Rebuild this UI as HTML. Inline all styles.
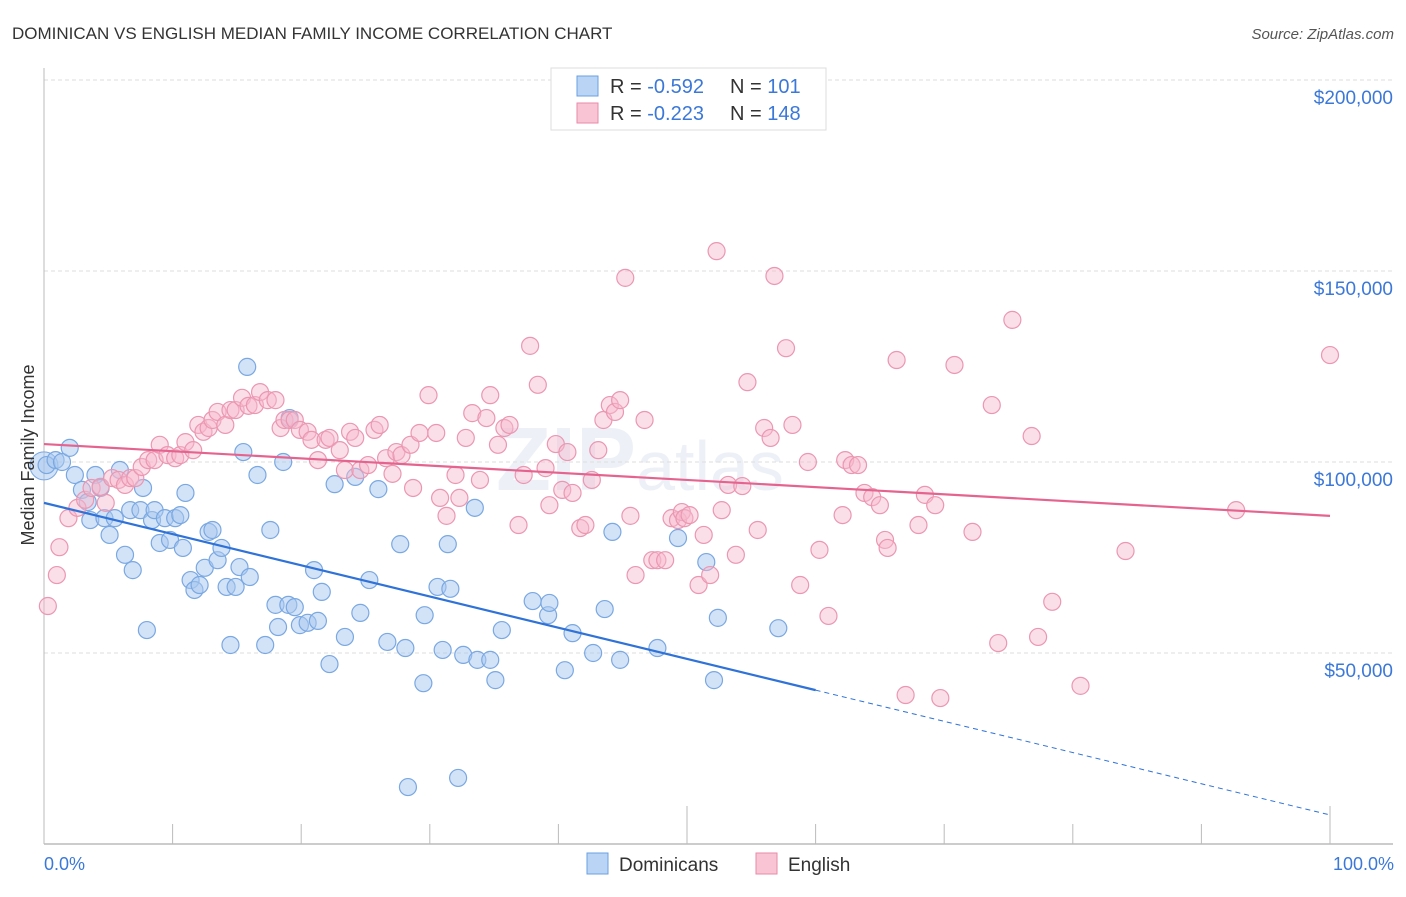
<!DOCTYPE html>
<html><head><meta charset="utf-8"><style>
body{margin:0;background:#fff;font-family:"Liberation Sans",sans-serif;}
svg text{font-family:"Liberation Sans",sans-serif;}
</style></head><body>
<svg id="chart" width="1406" height="892" xmlns="http://www.w3.org/2000/svg">
<text x="12" y="39" font-size="17" fill="#333">DOMINICAN VS ENGLISH MEDIAN FAMILY INCOME CORRELATION CHART</text>
<text x="1394" y="39" font-size="15" fill="#555" font-style="italic" text-anchor="end">Source: ZipAtlas.com</text>
<text x="640" y="490" font-size="90" fill="#edf1f7" text-anchor="middle" font-weight="bold">ZIP<tspan font-weight="normal" font-size="70">atlas</tspan></text>
<g id="grid"></g>
<g id="axes"></g>
<g id="pts"></g>
<g id="trend"></g>
<text transform="translate(34,455) rotate(-90)" font-size="18" fill="#333" text-anchor="middle">Median Family Income</text>
<text x="44" y="870" font-size="18" fill="#3b78d8">0.0%</text>
<text x="1394" y="870" font-size="18" fill="#3b78d8" text-anchor="end">100.0%</text>
<g>
<rect x="551" y="68" width="275" height="62" fill="#fff" stroke="#ddd"/>
<rect x="577" y="76" width="21" height="20" fill="#b9d4f5" stroke="#6b9fe0"/>
<rect x="577" y="103" width="21" height="20" fill="#f9c5d5" stroke="#e88aa8"/>
<text x="610" y="93" font-size="20" fill="#333">R = <tspan fill="#3b78d8">-0.592</tspan><tspan x="730">N = </tspan><tspan fill="#3b78d8">101</tspan></text>
<text x="610" y="120" font-size="20" fill="#333">R = <tspan fill="#3b78d8">-0.223</tspan><tspan x="730">N = </tspan><tspan fill="#3b78d8">148</tspan></text>
</g>
<g>
<rect x="587" y="853" width="21" height="21" fill="#b9d4f5" stroke="#6b9fe0"/>
<text x="619" y="871" font-size="19" fill="#333">Dominicans</text>
<rect x="756" y="853" width="21" height="21" fill="#f9c5d5" stroke="#e88aa8"/>
<text x="788" y="871" font-size="19" fill="#333">English</text>
</g>
</svg>
<script>
const yTicks=[50000,100000,150000,200000];
const yTickLabels=["$50,000","$100,000","$150,000","$200,000"];
const blueX=[0.2,0.9,1.4,2.0,2.4,2.95,3.4,3.6,4.0,4.4,4.7,5.1,5.5,5.9,6.3,6.7,6.9,7.5,7.7,8.0,8.4,8.6,9.0,9.4,9.8,10.2,10.6,10.8,11.0,11.4,11.7,12.1,12.5,12.8,13.1,13.5,13.8,14.2,14.5,14.9,15.2,15.5,15.8,16.0,16.6,17.2,17.6,18.0,18.2,18.6,19.0,19.1,19.5,19.9,20.5,21.0,21.3,21.6,22.2,22.6,23.4,24.2,24.6,25.3,26.0,26.7,27.7,28.1,28.3,29.5,29.6,30.6,31.0,31.4,31.6,32.2,32.6,33.5,33.7,34.7,35.1,35.6,38.0,39.2,39.3,40.5,41.1,42.7,43.6,44.2,44.8,47.7,49.3,51.5,52.1,52.4,57.1];
const blueY=[99.2,100.5,100,103.7,96.6,92.7,89.5,84.8,96.6,93.2,85.3,80.9,85.3,97.9,75.7,87.4,71.7,87.4,93.2,56.0,84.8,87.4,78.8,85.3,79.6,85.3,86.1,77.5,91.9,69.1,66.5,67.8,72.3,81.7,82.2,74.3,77.5,67.3,52.1,67.3,72.5,102.6,124.9,69.9,96.6,52.1,82.2,62.6,56.8,100,62.6,111.5,62.0,57.3,57.9,71.7,58.4,66.0,47.1,94.2,54.2,96.1,60.5,69.1,92.9,52.9,78.5,51.3,14.9,42.1,59.9,67.3,50.8,78.5,66.8,17.3,49.5,88.0,48.2,48.2,42.9,56.0,63.6,59.9,63.1,45.5,55.2,50.0,61.5,81.7,48.2,51.3,80.1,73.8,42.9,59.2,56.5];
const pinkX=[0.3,1.0,1.2,1.9,2.6,3.2,3.7,4.4,4.8,5.3,5.8,6.3,6.7,7.1,7.6,8.1,8.6,9.0,9.6,10.2,10.6,11.0,11.6,12.0,12.4,12.8,13.1,13.5,14.1,14.5,14.9,15.4,15.9,16.4,16.8,17.4,18.0,18.4,18.7,19.1,19.5,19.9,20.5,20.8,21.3,21.9,22.2,23.0,23.4,23.8,24.2,24.6,25.2,25.7,26.1,26.6,27.1,27.4,27.8,28.5,28.7,29.2,29.9,30.5,30.8,31.3,32.0,32.3,32.8,33.3,33.9,34.4,34.7,35.3,35.8,36.2,36.9,37.3,37.8,38.4,39.0,39.3,39.8,40.3,40.7,41.1,41.7,42.1,42.6,43.1,43.5,44.0,44.4,44.8,45.2,45.6,46.0,46.7,47.3,47.7,48.3,48.8,49.3,49.6,49.8,50.2,50.9,51.3,51.8,52.3,52.7,53.2,53.8,54.3,54.7,55.5,56.0,56.5,56.8,57.7,58.2,58.8,59.4,60.3,61.0,62.1,62.3,62.8,63.3,63.8,64.4,65.0,65.4,65.6,66.3,67.0,68.0,68.5,69.3,69.7,70.8,72.2,73.7,74.2,75.3,76.8,77.3,78.4,80.6,84.1,92.7,100.0];
const pinkY=[62.3,70.4,77.7,85.3,88.0,90.1,93.2,93.5,89.3,95.8,95.3,94.0,95.8,95.8,98.7,100.5,100.5,104.5,101.8,101.0,101.8,105.2,103.1,109.7,107.9,108.9,111.0,113.1,109.7,113.6,113.6,116.8,114.7,114.9,118.3,116.2,116.2,108.9,111.0,111.0,111.0,108.4,107.9,105.8,100.5,105.8,106.3,103.1,97.9,107.9,106.3,97.9,99.2,108.4,109.7,101.0,96.9,102.6,101.8,104.5,93.2,107.6,117.5,107.6,90.6,85.9,96.6,90.6,106.3,112.8,95.3,111.5,117.5,104.5,108.9,109.7,83.5,96.6,130.4,120.2,98.4,88.7,104.7,92.7,102.6,91.9,82.7,83.5,95.3,103.1,111.0,114.9,113.1,116.2,148.2,85.9,70.4,111.0,74.3,74.3,74.3,85.3,84.8,86.9,85.3,86.1,67.8,80.9,70.4,155.2,87.4,94.0,75.7,93.7,120.9,82.2,108.9,106.3,148.7,129.8,109.7,67.8,100,77.0,59.7,86.1,100.5,99.2,99.2,91.9,90.8,88.7,79.6,77.5,126.7,39.0,83.5,91.4,88.7,38.2,125.4,81.7,114.9,52.6,137.2,106.8,54.2,63.4,41.4,76.7,87.4,128.0];
const blueTrend=[89.3,7.6];
const pinkTrend=[104.7,85.9];
const blueSolidEnd=60;

const NS="http://www.w3.org/2000/svg";
const X0=44,X1=1330,Y100=462,PX50=191;
function xs(p){return X0+(X1-X0)*p/100;}
function ys(v){return Y100-(v-100000)*PX50/50000;}
function mk(tag,attrs,parent){const e=document.createElementNS(NS,tag);for(const k in attrs)e.setAttribute(k,attrs[k]);parent.appendChild(e);return e;}
const grid=document.getElementById('grid');
yTicks.forEach((t,i)=>{
  const l=mk('line',{x1:X0,x2:1393,y1:ys(t),y2:ys(t),stroke:'#ddd','stroke-dasharray':'4,3'},grid);
  
  
  const tx=mk('text',{x:1393,y:ys(t)+24,'font-size':19,fill:'#3b78d8','text-anchor':'end'},grid);
  tx.textContent=yTickLabels[i];
  
  
});
const ax=document.getElementById('axes');
const yl=mk('line',{x1:X0,x2:X0,y1:68,y2:844,stroke:'#bbb'},ax);


const xl=mk('line',{x1:X0,x2:1393,y1:844,y2:844,stroke:'#bbb','stroke-width':1.5},ax);


for(let i=0;i<=10;i++){
  const t=mk('line',{x1:xs(i*10),x2:xs(i*10),y1:844,y2:(i%5==0&&i>0)?806:824,stroke:'#bbb'},ax);
  
  
}
const pts=document.getElementById('pts');
const big=mk('circle',{cx:xs(0),cy:ys(99000),r:14,fill:'rgba(168,200,240,0.5)',stroke:'#7aa8e2'},pts);


blueX.forEach((x,i)=>{
  const c=mk('circle',{cx:xs(x),cy:ys(blueY[i]*1000),r:8.5,fill:'rgba(168,200,240,0.5)',stroke:'#7aa8e2','stroke-width':1.2},pts);
  
  
});
pinkX.forEach((x,i)=>{
  const c=mk('circle',{cx:xs(x),cy:ys(pinkY[i]*1000),r:8.5,fill:'rgba(247,184,204,0.45)',stroke:'#eb97b2','stroke-width':1.2},pts);
  
  
});
const tr=document.getElementById('trend');
function bt(p){return (blueTrend[0]+(blueTrend[1]-blueTrend[0])*p/100)*1000;}
const b1=mk('line',{x1:xs(0),y1:ys(bt(0)),x2:xs(blueSolidEnd),y2:ys(bt(blueSolidEnd)),stroke:'#2f72d8','stroke-width':2.2},tr);


const b2=mk('line',{x1:xs(blueSolidEnd),y1:ys(bt(blueSolidEnd)),x2:xs(100),y2:ys(bt(100)),stroke:'#2f72d8','stroke-width':1,'stroke-dasharray':'5,4'},tr);


const p1=mk('line',{x1:xs(0),y1:ys(pinkTrend[0]*1000),x2:xs(100),y2:ys(pinkTrend[1]*1000),stroke:'#e5648f','stroke-width':2.2},tr);


</script>
</body></html>
